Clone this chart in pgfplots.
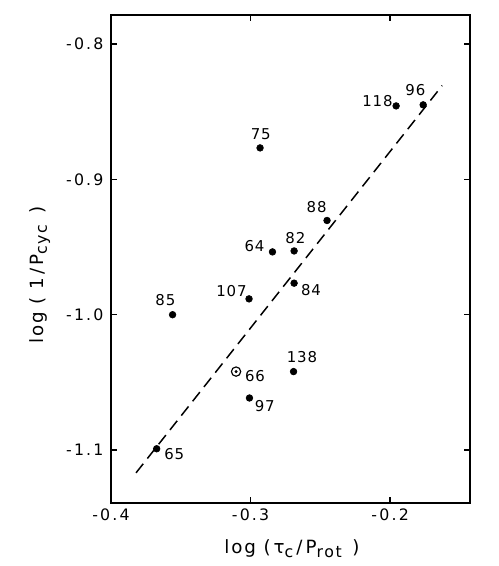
\documentclass[border=0pt]{standalone}
\usepackage{fontspec}
\setmainfont[LetterSpace=6]{DejaVu Sans}
\usepackage{pgfplots}
\usepackage{pgfplotstable}
\pgfplotsset{compat=1.18}
\pgfplotstableread{
x y lab dx dy
-0.1957 -0.8458 118 -11.2 2.7
-0.1763 -0.8450 96 -4.7 8.8
-0.2932 -0.8768 75 0.4 8.2
-0.2452 -0.9304 88 -6.3 8.0
-0.2843 -0.9536 64 -10.8 3.5
-0.2688 -0.9529 82 0.8 7.5
-0.2688 -0.9767 84 10.2 -4.3
-0.3011 -0.9883 107 -10.6 4.9
-0.3559 -1.0000 85 -4.3 8.8
-0.2692 -1.0420 138 5.1 8.8
-0.3008 -1.0615 97 9.2 -4.9
-0.3673 -1.0990 65 10.6 -3.3
}\stardata
\pgfplotstableread{
x y lab dx dy
-0.3104 -1.0420 66 11.4 -2.4
}\ringdata
\newcommand\lf{\fontsize{9}{10}\selectfont}
\newcommand\tf{\fontsize{9.5}{11}\selectfont\addfontfeature{LetterSpace=14}}
\newcommand\bigf{\fontsize{11}{13}\selectfont\addfontfeature{LetterSpace=10}}
\newcommand\sub[1]{\raisebox{-0.35ex}{\fontsize{9.5}{10}\selectfont #1}}
\begin{document}
\begin{tikzpicture}
\begin{axis}[
  scale only axis,
  width=216.3pt, height=294pt,
  xmin=-0.4, xmax=-0.1427,
  ymin=-1.139, ymax=-0.7786,
  axis line style={line width=0.8pt},
  tick align=inside, tick pos=both,
  major tick length=3.5pt,
  tick style={line width=0.8pt, black},
  xtick={-0.4,-0.3,-0.2},
  xticklabels={-0.4,-0.3,-0.2},
  ytick={-1.1,-1.0,-0.9,-0.8},
  yticklabels={-1.1,-1.0,-0.9,-0.8},
  ticklabel style={font=\tf},
  yticklabel style={xshift=-1pt},
  xlabel={log (\,τ\sub{c}\,/\,P\sub{rot}\, )},
  ylabel={log ( 1\,/\,P\sub{cyc}\, )},
  label style={font=\bigf},
  xlabel style={at={(axis description cs:0.504,-0.094)}, anchor=center},
  ylabel style={at={(axis description cs:-0.198,0.467)}, anchor=center},
  clip=false,
]
\addplot[black, line width=0.9pt, dash pattern=on 7pt off 4pt] coordinates {(-0.3821,-1.1168) (-0.1627,-0.8308)};
\addplot[only marks, mark=*, mark size=2pt, black,
  nodes near coords, point meta=explicit symbolic,
  visualization depends on={\thisrow{dx} \as \dx},
  visualization depends on={\thisrow{dy} \as \dy},
  every node near coord/.append style={font=\lf, anchor=center, shift={(\dx pt,\dy pt)}, inner sep=0pt, text=black}]
  table[x=x, y=y, meta=lab] {\stardata};
\addplot[only marks, mark=o, mark size=2.8pt, black, mark options={line width=0.7pt},
  nodes near coords, point meta=explicit symbolic,
  visualization depends on={\thisrow{dx} \as \dx},
  visualization depends on={\thisrow{dy} \as \dy},
  every node near coord/.append style={font=\lf, anchor=center, shift={(\dx pt,\dy pt)}, inner sep=0pt, text=black}]
  table[x=x, y=y, meta=lab] {\ringdata};
\addplot[only marks, mark=*, mark size=0.7pt, black] table[x=x, y=y] {\ringdata};
\end{axis}
\path (current axis.south west) ++(-66.9pt,-38pt);
\path (current axis.north east) ++(16.9pt,9pt);
\end{tikzpicture}
\end{document}
